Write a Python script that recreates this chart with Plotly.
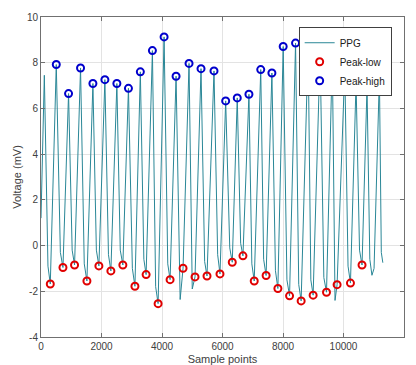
import plotly.graph_objects as go

# PPG trace vertices (sample index, voltage in mV)
ppg_x = [0, 110, 230, 307, 505, 640, 726, 911, 1030, 1109, 1307, 1430, 1518, 1716, 1830, 1914,
         2112, 2230, 2310, 2508, 2620, 2706, 2891, 3020, 3105, 3284, 3400, 3475, 3683, 3790, 3871,
         4069, 4190, 4267, 4465, 4600, 4696, 4894, 5000, 5092, 5290, 5410, 5488, 5719, 5840, 5917,
         6105, 6240, 6323, 6488, 6600, 6676, 6874, 6970, 7049, 7264, 7360, 7442, 7633, 7750, 7831,
         8006, 8130, 8217, 8415, 8520, 8600, 8831, 8920, 8996, 9227, 9350, 9438, 9630, 9720, 9788,
         10042, 10150, 10230, 10415, 10530, 10613, 10778, 10870, 10940, 11010, 11187, 11250, 11300]
ppg_y = [1.2, 7.45, -0.9, -1.68, 7.92, -0.3, -0.96, 6.65, -0.2, -0.85, 7.77, -0.8, -1.55, 7.09, -0.2, -0.89,
         7.26, -0.4, -1.11, 7.09, -0.2, -0.85, 6.88, -1.0, -1.78, 7.60, -0.6, -1.27, 8.53, -1.8, -2.54,
         9.13, -0.8, -1.49, 7.41, -2.36, -0.99, 7.97, -1.9, -1.37, 7.74, -0.7, -1.33, 7.64, -0.4, -1.24,
         6.33, -0.1, -0.73, 6.46, 0.1, -0.45, 6.62, -0.8, -1.55, 7.70, -0.6, -1.31, 7.55, -1.1, -1.88,
         8.71, -1.5, -2.20, 8.86, -1.7, -2.42, 8.76, -1.5, -2.17, 8.47, -1.4, -2.04, 8.28, -2.4, -1.71,
         7.74, -0.9, -1.64, 7.14, -0.2, -0.85, 6.94, -0.6, -1.3, -1.0, 7.41, -0.3, -0.75]

low_x = [307, 726, 1109, 1518, 1914, 2310, 2706, 3105, 3475, 3871, 4267, 4696, 5092, 5488,
         5917, 6323, 6676, 7049, 7442, 7831, 8217, 8600, 8996, 9438, 9788, 10230, 10613]
low_y = [-1.68, -0.96, -0.85, -1.55, -0.89, -1.11, -0.85, -1.78, -1.27, -2.54, -1.49, -0.99, -1.37, -1.33,
         -1.24, -0.73, -0.45, -1.55, -1.31, -1.88, -2.20, -2.42, -2.17, -2.04, -1.71, -1.64, -0.85]

high_x = [505, 911, 1307, 1716, 2112, 2508, 2891, 3284, 3683, 4069, 4465, 4894, 5290, 5719,
          6105, 6488, 6874, 7264, 7633, 8006, 8415, 8831, 9227, 9630, 10042, 10415, 10778]
high_y = [7.92, 6.65, 7.77, 7.09, 7.26, 7.09, 6.88, 7.60, 8.53, 9.13, 7.41, 7.97, 7.74, 7.64,
          6.33, 6.46, 6.62, 7.70, 7.55, 8.71, 8.86, 8.76, 8.47, 8.28, 7.74, 7.14, 6.94]

x_ticks = [0, 2000, 4000, 6000, 8000, 10000, 12000]
y_ticks = [-4, -2, 0, 2, 4, 6, 8, 10]

FONT = "Liberation Sans, Arial"

fig = go.Figure()
fig.add_trace(go.Scatter(x=ppg_x, y=ppg_y, mode="lines", name="PPG",
                         line=dict(color="#2a8797", width=1)))
fig.add_trace(go.Scatter(x=low_x, y=low_y, mode="markers", name="Peak-low",
                         marker=dict(symbol="circle-open", size=7, color="#e00000",
                                     line=dict(width=2, color="#e00000"))))
fig.add_trace(go.Scatter(x=high_x, y=high_y, mode="markers", name="Peak-high",
                         marker=dict(symbol="circle-open", size=7, color="#0000cc",
                                     line=dict(width=2, color="#0000cc"))))

axis_common = dict(showline=True, linecolor="#707070", linewidth=1, mirror="ticks",
                   ticks="inside", ticklen=4, tickcolor="#707070",
                   showgrid=True, gridcolor="#e3e3e3", gridwidth=1, zeroline=False,
                   automargin=False,
                   tickfont=dict(family=FONT, size=10, color="#404040"))

fig.update_xaxes(range=[0, 12000], tickvals=x_ticks, ticktext=[str(v) for v in x_ticks],
                 title=dict(text="Sample points", standoff=8,
                            font=dict(family=FONT, size=11, color="#404040")),
                 **axis_common)
fig.update_yaxes(range=[-4, 10], tickvals=y_ticks, ticktext=[str(v) for v in y_ticks],
                 title=dict(text="Voltage (mV)", standoff=3,
                            font=dict(family=FONT, size=11, color="#404040")),
                 **axis_common)

fig.update_layout(width=416, height=365, margin=dict(l=41, r=12, t=17, b=28),
                  paper_bgcolor="white", plot_bgcolor="white",
                  legend=dict(x=0.966, y=0.968, xanchor="right", yanchor="top",
                              bgcolor="white", bordercolor="#404040", borderwidth=1,
                              font=dict(family=FONT, size=10, color="#202020"),
                              tracegroupgap=0, itemwidth=30))

fig.write_html("out.html")
